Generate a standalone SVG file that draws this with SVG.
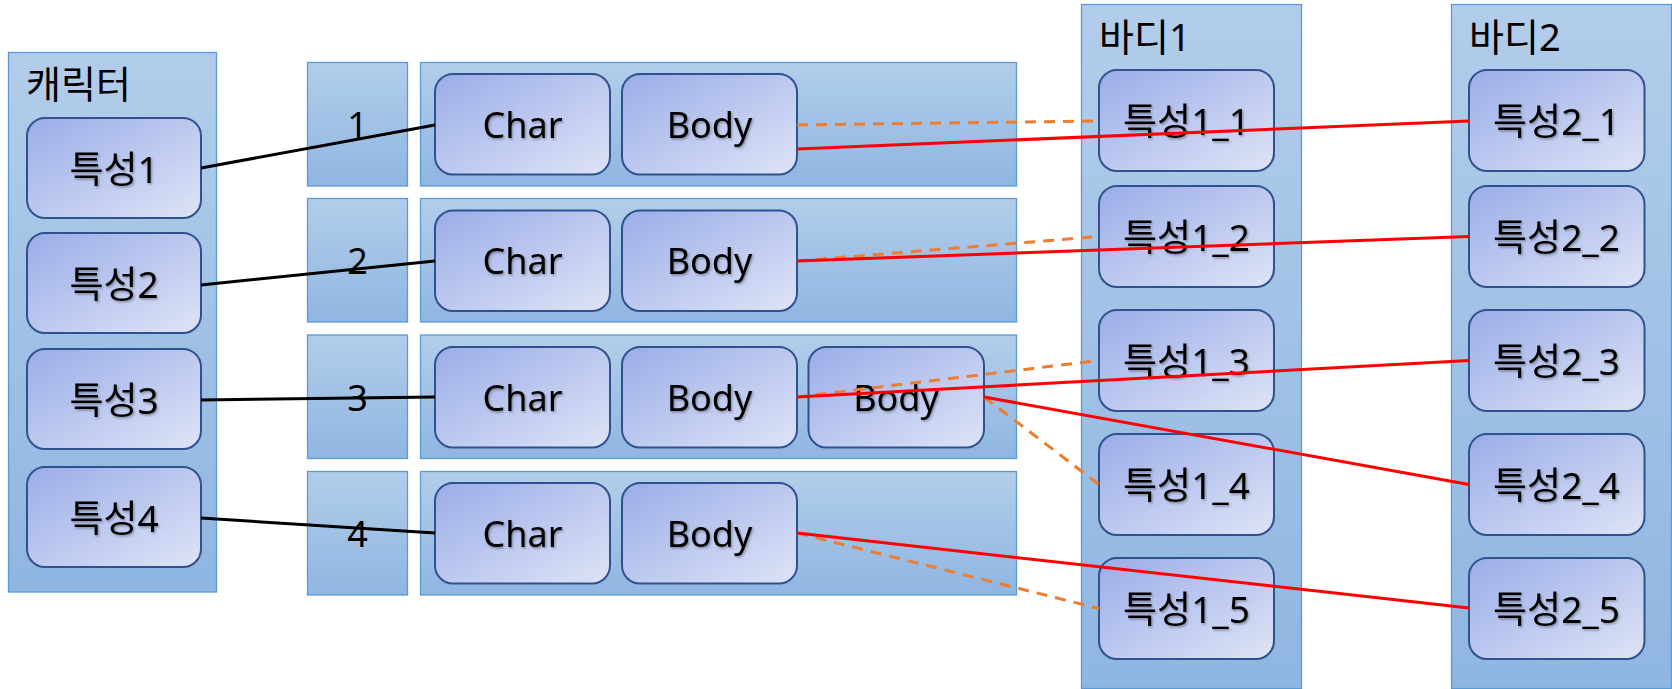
<svg xmlns="http://www.w3.org/2000/svg" width="1672" height="689" viewBox="0 0 1672 689">
<defs>
<linearGradient id="gc" x1="0" y1="0" x2="0" y2="1">
<stop offset="0" stop-color="#B2CDEA"/>
<stop offset="1" stop-color="#8FB6E1"/>
</linearGradient>
<linearGradient id="gn" x1="0" y1="0" x2="1" y2="1">
<stop offset="0" stop-color="#9BADE8"/>
<stop offset="0.5" stop-color="#BCC8EF"/>
<stop offset="1" stop-color="#DEE4F6"/>
</linearGradient>
<filter id="ts" x="-10%" y="-20%" width="130%" height="150%">
<feDropShadow dx="1.2" dy="1.5" stdDeviation="1" flood-color="#000" flood-opacity="0.35"/>
</filter>
</defs>
<style>
.cont{fill:url(#gc);stroke:#5B9BD5;stroke-width:1.3}
.node{fill:url(#gn);stroke:#2F528F;stroke-width:2}
.t{font-family:"Noto Sans","Noto Sans CJK KR",sans-serif;fill:#000;dominant-baseline:central}
.title{font-size:38px}
.nt{font-size:37px;text-anchor:middle;filter:url(#ts)}
.lt{font-size:36px}
.num{font-size:36px;text-anchor:middle}
.blk{stroke:#000;stroke-width:3;fill:none}
.red{stroke:#FF0000;stroke-width:3;fill:none}
.org{stroke:#ED7D31;stroke-width:3;fill:none;stroke-dasharray:11 8}
</style>
<rect width="1672" height="689" fill="#fff"/>

<g id="character">
<rect class="cont" x="8.5" y="52.5" width="208" height="539.5"/>
<text class="t title" x="26" y="83">캐릭터</text>
</g>
<g id="trait1"><rect class="node" x="27" y="118" width="174" height="100" rx="18"/><text class="t nt" x="114" y="168">특성1</text></g>
<g id="trait2"><rect class="node" x="27" y="233" width="174" height="100" rx="18"/><text class="t nt" x="114" y="283">특성2</text></g>
<g id="trait3"><rect class="node" x="27" y="349" width="174" height="100" rx="18"/><text class="t nt" x="114" y="399">특성3</text></g>
<g id="trait4"><rect class="node" x="27" y="467" width="174" height="100" rx="18"/><text class="t nt" x="114" y="517">특성4</text></g>

<g id="num1"><rect class="cont" x="307.5" y="62.5" width="100" height="123.5"/><text class="t num" x="357.5" y="124">1</text></g>
<g id="num2"><rect class="cont" x="307.5" y="198.5" width="100" height="123.5"/><text class="t num" x="357.5" y="260">2</text></g>
<g id="num3"><rect class="cont" x="307.5" y="335" width="100" height="123.5"/><text class="t num" x="357.5" y="397">3</text></g>
<g id="num4"><rect class="cont" x="307.5" y="471.5" width="100" height="123.5"/><text class="t num" x="357.5" y="533">4</text></g>

<g id="row1"><rect class="cont" x="420.5" y="62.5" width="596" height="123.5"/></g>
<g id="row2"><rect class="cont" x="420.5" y="198.5" width="596" height="123.5"/></g>
<g id="row3"><rect class="cont" x="420.5" y="335" width="596" height="123.5"/></g>
<g id="row4"><rect class="cont" x="420.5" y="471.5" width="596" height="123.5"/></g>

<g id="char1"><rect class="node" x="435" y="74" width="175" height="100.5" rx="18"/><text class="t nt lt" x="522.5" y="124">Char</text></g>
<g id="body1"><rect class="node" x="622" y="74" width="175" height="100.5" rx="18"/><text class="t nt lt" x="709.5" y="124">Body</text></g>
<g id="char2"><rect class="node" x="435" y="210.5" width="175" height="100.5" rx="18"/><text class="t nt lt" x="522.5" y="260.5">Char</text></g>
<g id="body2"><rect class="node" x="622" y="210.5" width="175" height="100.5" rx="18"/><text class="t nt lt" x="709.5" y="260.5">Body</text></g>
<g id="char3"><rect class="node" x="435" y="347" width="175" height="100.5" rx="18"/><text class="t nt lt" x="522.5" y="397">Char</text></g>
<g id="body3a"><rect class="node" x="622" y="347" width="175" height="100.5" rx="18"/><text class="t nt lt" x="709.5" y="397">Body</text></g>
<g id="body3b"><rect class="node" x="808.5" y="347" width="175.5" height="100.5" rx="18"/><text class="t nt lt" x="896" y="397">Body</text></g>
<g id="char4"><rect class="node" x="435" y="483" width="175" height="100.5" rx="18"/><text class="t nt lt" x="522.5" y="533">Char</text></g>
<g id="body4"><rect class="node" x="622" y="483" width="175" height="100.5" rx="18"/><text class="t nt lt" x="709.5" y="533">Body</text></g>

<g id="body1col">
<rect class="cont" x="1081.5" y="4.5" width="220" height="684"/>
<text class="t title" x="1099" y="36">바디1</text>
</g>
<g id="b1_1"><rect class="node" x="1099" y="70" width="175" height="101" rx="18"/><text class="t nt" x="1186.5" y="120.5">특성1_1</text></g>
<g id="b1_2"><rect class="node" x="1099" y="186" width="175" height="101" rx="18"/><text class="t nt" x="1186.5" y="236.5">특성1_2</text></g>
<g id="b1_3"><rect class="node" x="1099" y="310" width="175" height="101" rx="18"/><text class="t nt" x="1186.5" y="360.5">특성1_3</text></g>
<g id="b1_4"><rect class="node" x="1099" y="434" width="175" height="101" rx="18"/><text class="t nt" x="1186.5" y="484.5">특성1_4</text></g>
<g id="b1_5"><rect class="node" x="1099" y="558" width="175" height="101" rx="18"/><text class="t nt" x="1186.5" y="608.5">특성1_5</text></g>

<g id="body2col">
<rect class="cont" x="1451.5" y="4.5" width="220" height="684"/>
<text class="t title" x="1469" y="36">바디2</text>
</g>
<g id="b2_1"><rect class="node" x="1469" y="70" width="175.5" height="101" rx="18"/><text class="t nt" x="1556.5" y="120.5">특성2_1</text></g>
<g id="b2_2"><rect class="node" x="1469" y="186" width="175.5" height="101" rx="18"/><text class="t nt" x="1556.5" y="236.5">특성2_2</text></g>
<g id="b2_3"><rect class="node" x="1469" y="310" width="175.5" height="101" rx="18"/><text class="t nt" x="1556.5" y="360.5">특성2_3</text></g>
<g id="b2_4"><rect class="node" x="1469" y="434" width="175.5" height="101" rx="18"/><text class="t nt" x="1556.5" y="484.5">특성2_4</text></g>
<g id="b2_5"><rect class="node" x="1469" y="558" width="175.5" height="101" rx="18"/><text class="t nt" x="1556.5" y="608.5">특성2_5</text></g>

<g id="connectors">
<line class="blk" x1="201" y1="168" x2="435" y2="125"/>
<line class="blk" x1="201" y1="285" x2="435" y2="261"/>
<line class="blk" x1="201" y1="400" x2="435" y2="397"/>
<line class="blk" x1="201" y1="518" x2="435" y2="533"/>
<line class="org" x1="797" y1="125" x2="1099" y2="121"/>
<line class="org" x1="797" y1="261" x2="1099" y2="236.5"/>
<line class="org" x1="797" y1="397" x2="1099" y2="360.5"/>
<line class="org" x1="984" y1="397" x2="1099" y2="484.5"/>
<line class="org" x1="797" y1="533" x2="1099" y2="608.5"/>
<line class="red" x1="797" y1="149" x2="1469" y2="121"/>
<line class="red" x1="797" y1="261" x2="1469" y2="236.5"/>
<line class="red" x1="797" y1="397" x2="1469" y2="360.5"/>
<line class="red" x1="984" y1="397" x2="1469" y2="484.5"/>
<line class="red" x1="797" y1="533" x2="1469" y2="608"/>
</g>
</svg>
